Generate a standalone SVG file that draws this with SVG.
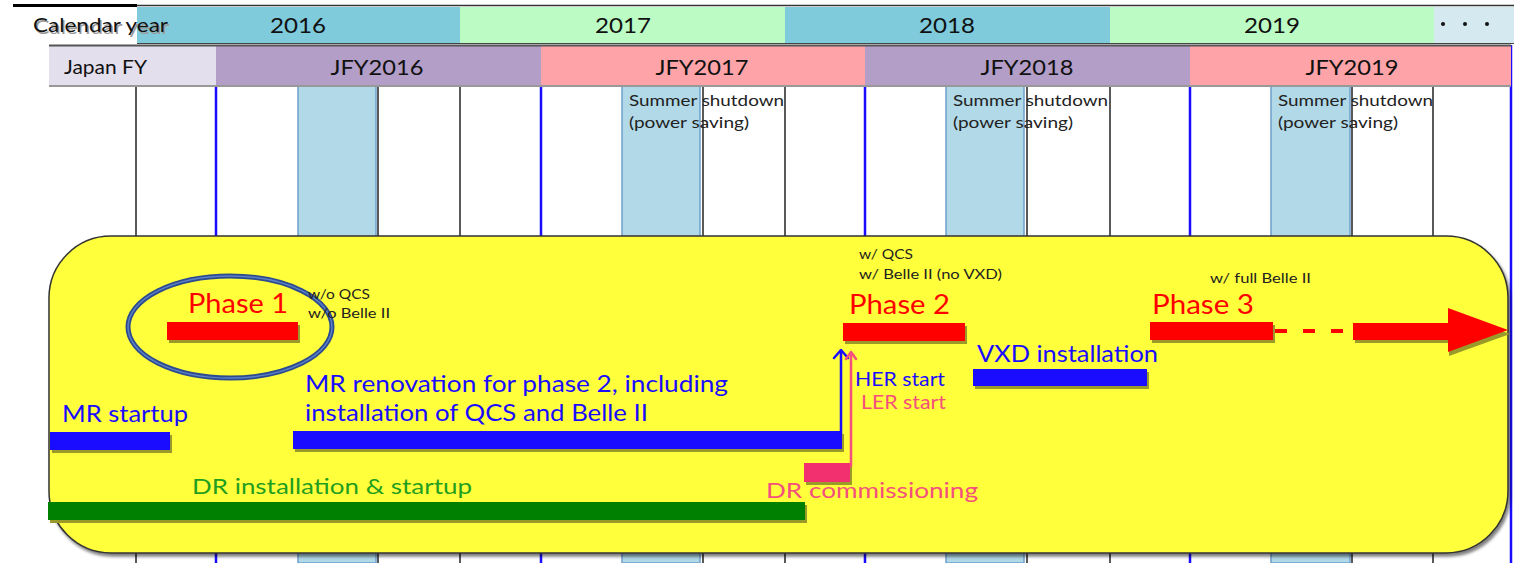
<svg xmlns="http://www.w3.org/2000/svg" width="1514" height="563" viewBox="0 0 1514 563">
<defs>
<style>
text{font-family:Lato,"Open Sans","Liberation Sans",sans-serif}
.hdr{font-size:22px;fill:#111;text-anchor:middle}
.vb{stroke:#1a0dff;stroke-width:2.5}
.vk{stroke:#222;stroke-width:1.5}
.sd{fill:#b1d9e7;stroke:#6f9fcc;stroke-width:1.5}
.small{font-size:16px;fill:#222}
.note{font-size:13px;fill:#222}
.ph{font-size:27px;fill:#ff0000}
.red{fill:#ff0000}
.blue{fill:#1a0dff}
.pink{fill:#f3306f}
.sh{fill:#9a9a2a}
</style>
<filter id="ds" x="-5%" y="-5%" width="110%" height="110%"><feDropShadow dx="2" dy="3" stdDeviation="1.5" flood-color="#000" flood-opacity="0.5"/></filter>
</defs>
<rect width="1514" height="563" fill="#fff"/>
<g id="grid">
<rect class="sd" x="298" y="85" width="78" height="478"/>
<rect class="sd" x="622" y="85" width="78" height="478"/>
<rect class="sd" x="946" y="85" width="78" height="478"/>
<rect class="sd" x="1271" y="85" width="79" height="478"/>
<line class="vk" x1="136" y1="85" x2="136" y2="563"/>
<line class="vk" x1="378" y1="85" x2="378" y2="563"/>
<line class="vk" x1="460" y1="85" x2="460" y2="563"/>
<line class="vk" x1="703" y1="85" x2="703" y2="563"/>
<line class="vk" x1="785" y1="85" x2="785" y2="563"/>
<line class="vk" x1="1027" y1="85" x2="1027" y2="563"/>
<line class="vk" x1="1110" y1="85" x2="1110" y2="563"/>
<line class="vk" x1="1352" y1="85" x2="1352" y2="563"/>
<line class="vk" x1="1433" y1="85" x2="1433" y2="563"/>
<line class="vb" x1="216" y1="45" x2="216" y2="563"/>
<line class="vb" x1="541" y1="45" x2="541" y2="563"/>
<line class="vb" x1="865" y1="45" x2="865" y2="563"/>
<line class="vb" x1="1190" y1="45" x2="1190" y2="563"/>
<line class="vb" x1="1511" y1="45" x2="1511" y2="563"/>
<text class="small" x="629" y="106" textLength="155" lengthAdjust="spacingAndGlyphs">Summer shutdown</text>
<text class="small" x="629" y="128" textLength="120" lengthAdjust="spacingAndGlyphs">(power saving)</text>
<text class="small" x="953" y="106" textLength="155" lengthAdjust="spacingAndGlyphs">Summer shutdown</text>
<text class="small" x="953" y="128" textLength="120" lengthAdjust="spacingAndGlyphs">(power saving)</text>
<text class="small" x="1278" y="106" textLength="155" lengthAdjust="spacingAndGlyphs">Summer shutdown</text>
<text class="small" x="1278" y="128" textLength="120" lengthAdjust="spacingAndGlyphs">(power saving)</text>
</g>
<g id="calendar-row">
<line x1="13" y1="5.5" x2="137" y2="5.5" stroke="#000" stroke-width="3"/>
<line x1="137" y1="5.5" x2="1514" y2="5.5" stroke="#333" stroke-width="1.5"/>
<rect x="137" y="7" width="323" height="36" fill="#7fcbdc"/>
<rect x="460" y="7" width="325" height="36" fill="#bcfcc4"/>
<rect x="785" y="7" width="325" height="36" fill="#7fcbdc"/>
<rect x="1110" y="7" width="324" height="36" fill="#bcfcc4"/>
<rect x="1434" y="7" width="80" height="36" fill="#d5e9f1"/>
<line x1="137" y1="43.5" x2="1514" y2="43.5" stroke="#444" stroke-width="1"/>
<text x="33" y="32" font-size="20" fill="#999" transform="translate(1.5,1.5)" textLength="135" lengthAdjust="spacingAndGlyphs">Calendar year</text>
<text x="33" y="32" font-size="20" fill="#111" textLength="135" lengthAdjust="spacingAndGlyphs">Calendar year</text>
<text class="hdr" x="298" y="33" textLength="56" lengthAdjust="spacingAndGlyphs">2016</text>
<text class="hdr" x="623" y="33" textLength="56" lengthAdjust="spacingAndGlyphs">2017</text>
<text class="hdr" x="947" y="33" textLength="56" lengthAdjust="spacingAndGlyphs">2018</text>
<text class="hdr" x="1272" y="33" textLength="56" lengthAdjust="spacingAndGlyphs">2019</text>
<circle cx="1443" cy="24" r="2" fill="#111"/>
<circle cx="1465" cy="24" r="2" fill="#111"/>
<circle cx="1487" cy="24" r="2" fill="#111"/>
</g>
<g id="jfy-row">
<rect x="49" y="45" width="167" height="40" fill="#e3dfec"/>
<rect x="216" y="45" width="325" height="40" fill="#b39ec8"/>
<rect x="541" y="45" width="324" height="40" fill="#fea4a8"/>
<rect x="865" y="45" width="325" height="40" fill="#b39ec8"/>
<rect x="1190" y="45" width="321" height="40" fill="#fea4a8"/>
<line x1="49" y1="45.5" x2="1511" y2="45.5" stroke="#555" stroke-width="2"/>
<line x1="49" y1="86" x2="1511" y2="86" stroke="#999" stroke-width="2"/>
<text x="64" y="74" font-size="20" fill="#111" textLength="83" lengthAdjust="spacingAndGlyphs">Japan FY</text>
<text class="hdr" x="377" y="75" textLength="93" lengthAdjust="spacingAndGlyphs">JFY2016</text>
<text class="hdr" x="702" y="75" textLength="93" lengthAdjust="spacingAndGlyphs">JFY2017</text>
<text class="hdr" x="1027" y="75" textLength="93" lengthAdjust="spacingAndGlyphs">JFY2018</text>
<text class="hdr" x="1352" y="75" textLength="93" lengthAdjust="spacingAndGlyphs">JFY2019</text>
</g>
<g id="timeline-panel">
<rect x="49" y="236" width="1459" height="317" rx="62" ry="62" fill="#ffff3b" stroke="#333" stroke-width="1.5" filter="url(#ds)"/>
</g>
<g id="phase1">
<rect class="sh" x="169" y="325" width="131" height="18"/>
<rect class="red" x="167" y="322" width="131" height="18"/>
<text class="ph" x="188" y="313" textLength="100" lengthAdjust="spacingAndGlyphs">Phase 1</text>
<ellipse cx="230" cy="327" rx="102" ry="51" fill="none" stroke="#2c4b8e" stroke-width="5"/>
<ellipse cx="230" cy="327" rx="102" ry="51" fill="none" stroke="#5b7fc4" stroke-width="1.5"/>
<text class="note" x="308" y="299" textLength="62" lengthAdjust="spacingAndGlyphs">w/o QCS</text>
<text class="note" x="308" y="318" textLength="82" lengthAdjust="spacingAndGlyphs">w/o Belle II</text>
</g>
<g id="phase2">
<rect class="sh" x="845" y="326" width="122" height="18"/>
<rect class="red" x="843" y="323" width="122" height="18"/>
<text class="ph" x="849" y="314" textLength="101" lengthAdjust="spacingAndGlyphs">Phase 2</text>
<text class="note" x="859" y="259" textLength="54" lengthAdjust="spacingAndGlyphs">w/ QCS</text>
<text class="note" x="859" y="279" textLength="143" lengthAdjust="spacingAndGlyphs">w/ Belle II (no VXD)</text>
</g>
<g id="phase3">
<rect class="sh" x="1152" y="325" width="123" height="18"/>
<rect class="red" x="1150" y="322" width="123" height="18"/>
<text class="ph" x="1152" y="314" textLength="102" lengthAdjust="spacingAndGlyphs">Phase 3</text>
<text class="note" x="1210" y="283" textLength="101" lengthAdjust="spacingAndGlyphs">w/ full Belle II</text>
<line x1="1275" y1="331" x2="1350" y2="331" stroke="#ff0000" stroke-width="4" stroke-dasharray="12,16"/>
<polygon points="1355,326 1449,326 1449,312 1510,334 1449,356 1449,343 1355,343" fill="#9a9a2a"/>
<polygon points="1353,323 1448,323 1448,308 1508,330 1448,352 1448,340 1353,340" fill="#ff0000"/>
</g>
<g id="vxd-installation">
<rect class="sh" x="975" y="372" width="174" height="17"/>
<rect class="blue" x="973" y="369" width="174" height="17"/>
<text x="977" y="362" font-size="23" fill="#1a0dff" textLength="181" lengthAdjust="spacingAndGlyphs">VXD installation</text>
</g>
<g id="mr-startup">
<rect class="sh" x="52" y="435" width="120" height="18"/>
<rect class="blue" x="50" y="432" width="120" height="18"/>
<text x="62" y="422" font-size="23" fill="#1a0dff" textLength="126" lengthAdjust="spacingAndGlyphs">MR startup</text>
</g>
<g id="mr-renovation">
<rect class="sh" x="295" y="434" width="549" height="18"/>
<rect class="blue" x="293" y="431" width="549" height="18"/>
<text x="305" y="392" font-size="23" fill="#1a0dff" textLength="423" lengthAdjust="spacingAndGlyphs">MR renovation for phase 2, including</text>
<text x="305" y="421" font-size="23" fill="#1a0dff" textLength="343" lengthAdjust="spacingAndGlyphs">installation of QCS and Belle II</text>
</g>
<g id="dr-commissioning">
<rect class="sh" x="806" y="466" width="46" height="19"/>
<rect class="pink" x="804" y="463" width="46" height="19"/>
<text x="766" y="498" font-size="22" fill="#f5507d" textLength="212" lengthAdjust="spacingAndGlyphs">DR commissioning</text>
</g>
<g id="dr-installation">
<rect class="sh" x="50" y="505" width="757" height="18"/>
<rect x="48" y="502" width="757" height="18" fill="#008000"/>
<text x="192" y="494" font-size="22" fill="#1f9e1f" textLength="280" lengthAdjust="spacingAndGlyphs">DR installation &amp; startup</text>
</g>
<g id="beam-start">
<text x="855" y="386" font-size="20" fill="#1a0dff" textLength="90" lengthAdjust="spacingAndGlyphs">HER start</text>
<text x="861" y="409" font-size="20" fill="#f5507d" textLength="85" lengthAdjust="spacingAndGlyphs">LER start</text>
</g>
<g id="connectors" fill="none" stroke-linecap="round" stroke-linejoin="round">
<line x1="841" y1="434" x2="841" y2="351" stroke="#1a0dff" stroke-width="2.5"/>
<polyline points="834,358 841,350 848,358" stroke="#1a0dff" stroke-width="2.5"/>
<line x1="851" y1="466" x2="851" y2="353" stroke="#f5507d" stroke-width="2.5"/>
<polyline points="846,359 851,352 856,359" stroke="#f5507d" stroke-width="2.5"/>
</g>
</svg>
